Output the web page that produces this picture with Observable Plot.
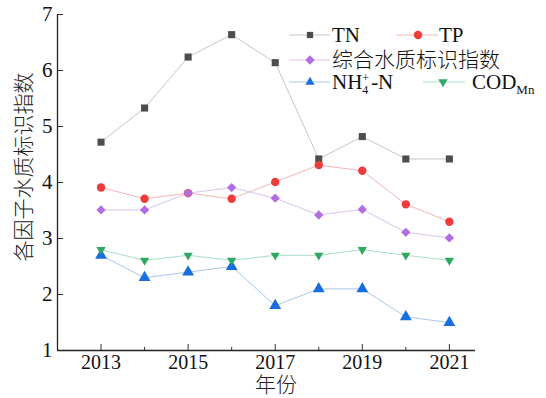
<!DOCTYPE html>
<html><head><meta charset="utf-8">
<script src="https://cdn.jsdelivr.net/npm/d3@7"></script>
<script src="https://cdn.jsdelivr.net/npm/@observablehq/plot@0.6"></script>
<style>body{margin:0;background:#fff} #chart{width:546px;height:398px}</style>
</head><body><div id="chart"></div>
<script>
const years = [2013, 2014, 2015, 2016, 2017, 2018, 2019, 2020, 2021];
const tn  = [4.72, 5.33, 6.24, 6.64, 6.14, 4.42, 4.82, 4.42, 4.42];
const tp  = [3.91, 3.71, 3.81, 3.71, 4.01, 4.31, 4.21, 3.61, 3.30];
const wqi = [3.51, 3.51, 3.81, 3.91, 3.72, 3.42, 3.52, 3.11, 3.01];
const nh4 = [2.70, 2.30, 2.40, 2.50, 1.80, 2.10, 2.10, 1.60, 1.50];
const cod = [2.80, 2.61, 2.70, 2.61, 2.70, 2.70, 2.80, 2.70, 2.61];
const names = ["TN", "TP", "综合水质标识指数", "NH4+-N", "CODMn"];
const markerColors = ["#4d4d4d", "#ee3b3b", "#b06ee0", "#1a6ddf", "#2ea862"];
const lineColors = ["#c6c6c6", "#f2b6b6", "#dcc2f0", "#a9c8ec", "#a9dec2"];
const yTicks = [1, 2, 3, 4, 5, 6, 7];
const xTicks = [2013, 2015, 2017, 2019, 2021];
const xMinor = [2014, 2016, 2018, 2020];
const xLabel = "年份";
const yLabel = "各因子水质标识指数";

const triangleDown = {draw(context, size) {
  const s = Math.sqrt(size) * 0.6824, t = s / 2, u = s * Math.sqrt(3) / 2;
  context.moveTo(0, s); context.lineTo(u, -t); context.lineTo(-u, -t); context.closePath();
}};
const symbols = ["square", "circle", "diamond2", "triangle", triangleDown];
const radii = [4.0, 4.2, 4.2, 4.4, 4.4];
const allValues = [tn, tp, wqi, nh4, cod];

const data = [];
allValues.forEach((vals, si) => years.forEach((yr, i) => data.push({s: si, year: yr, value: vals[i]})));

const serif = "'Liberation Serif', 'Times New Roman', 'Noto Sans CJK SC', serif";
const cjk = "'Noto Sans CJK SC', 'Liberation Serif', sans-serif";

const marks = [
  Plot.axisX(xMinor, {tickSize: -3, tickFormat: () => "", label: null, stroke: "#333"}),
  Plot.axisX(xTicks, {tickSize: -6, tickPadding: 10, tickFormat: d => String(d), label: null, fontSize: 20, stroke: "#333"}),
  Plot.axisY(yTicks, {tickSize: -6, tickPadding: 11, tickFormat: d => String(d), label: null, fontSize: 21, stroke: "#333"}),
  Plot.ruleX([2012], {stroke: "#222", strokeWidth: 1.3}),
  Plot.ruleY([1], {stroke: "#222", strokeWidth: 1.3})
];
for (let si = 0; si < 5; si++) {
  marks.push(Plot.line(data, {filter: d => d.s === si, x: "year", y: "value", stroke: lineColors[si], strokeWidth: 1}));
}
for (let si = 0; si < 5; si++) {
  marks.push(Plot.dot(data, {filter: d => d.s === si, x: "year", y: "value", r: radii[si], symbol: symbols[si], fill: markerColors[si], stroke: "none"}));
}

const plot = Plot.plot({
  width: 546, height: 398,
  marginLeft: 57, marginRight: 71, marginTop: 14, marginBottom: 48,
  x: {domain: [2012, 2021.6]},
  y: {domain: [1, 7]},
  style: {fontFamily: serif, fontSize: "20px", color: "#111", background: "#fff"},
  marks
});
document.getElementById("chart").append(plot);

const svg = d3.select(plot);
// axis titles
svg.append("text").attr("x", 276).attr("y", 385).attr("dy", "0.35em")
  .attr("text-anchor", "middle").attr("font-family", cjk).attr("font-weight", 300)
  .attr("font-size", 21).attr("fill", "#222").text(xLabel);
svg.append("text").attr("transform", "translate(24,167) rotate(-90)").attr("dy", "0.35em")
  .attr("text-anchor", "middle").attr("font-family", cjk).attr("font-weight", 300)
  .attr("font-size", 21).attr("fill", "#222").text(yLabel);

// legend inside the plot area
const lg = svg.append("g").attr("font-family", serif).attr("fill", "#111").attr("text-anchor", "start");
const legendPos = [
  {x1: 289, x2: 330, mx: 310, tx: 332, y: 35},
  {x1: 396, x2: 438, mx: 418, tx: 439, y: 35},
  {x1: 289, x2: 330, mx: 310, tx: 332, y: 60},
  {x1: 289, x2: 330, mx: 310, tx: 332, y: 82},
  {x1: 423, x2: 465, mx: 443, tx: 472, y: 82}
];
const d3sym = {square: d3.symbolSquare2, circle: d3.symbolCircle, diamond2: d3.symbolDiamond2, triangle: d3.symbolTriangle2};
legendPos.forEach((p, si) => {
  lg.append("line").attr("x1", p.x1).attr("x2", p.x2).attr("y1", p.y).attr("y2", p.y)
    .attr("stroke", lineColors[si]).attr("stroke-width", 1);
  const sym = typeof symbols[si] === "string" ? d3sym[symbols[si]] : symbols[si];
  lg.append("path").attr("transform", `translate(${p.mx},${p.y})`)
    .attr("d", d3.symbol(sym, radii[si] * radii[si] * Math.PI)()).attr("fill", markerColors[si]);
  const t = lg.append("text").attr("x", p.tx).attr("y", p.y).attr("dy", "0.35em").attr("font-size", 21);
  if (si === 2) {
    t.attr("font-family", cjk).attr("font-weight", 300).text(names[si]);
  } else if (si === 3) {
    t.append("tspan").text("NH");
    t.append("tspan").attr("font-size", 12).attr("dy", 5).text("4");
    t.append("tspan").attr("font-size", 12).attr("dx", -6).attr("dy", -12).text("+");
    t.append("tspan").attr("font-size", 21).attr("dy", 7).attr("dx", 2).text("-N");
  } else if (si === 4) {
    t.append("tspan").text("COD");
    t.append("tspan").attr("font-size", 13).attr("dy", 5).text("Mn");
  } else {
    t.text(names[si]);
  }
});
</script>
</body></html>
